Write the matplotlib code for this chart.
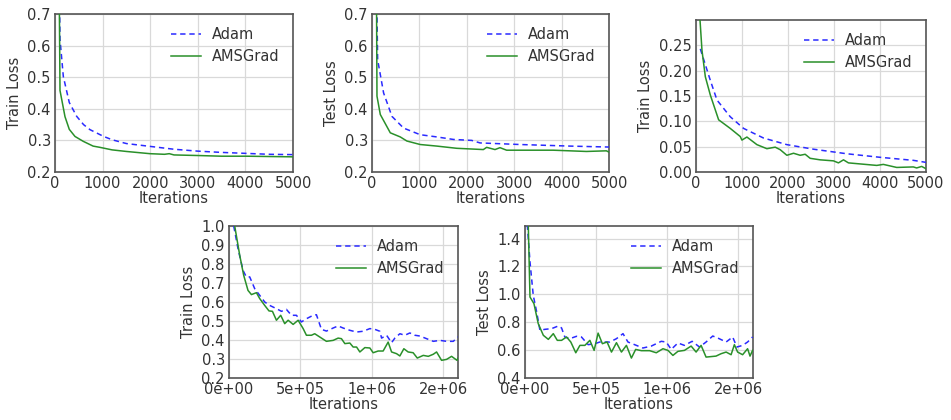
import numpy as np
import matplotlib
matplotlib.use("Agg")
import matplotlib.pyplot as plt
from matplotlib.ticker import FormatStrFormatter

# --- data ---
# panel 1: train loss, 5000 iterations
p1_adam_x = [95, 105, 175, 300, 456, 600, 735, 1015, 1200, 1500, 2000, 2500, 3000, 3500, 4000, 4500, 5000]
p1_adam_y = [0.75, 0.62, 0.502, 0.42, 0.376, 0.35, 0.334, 0.313, 0.302, 0.29, 0.281, 0.272, 0.266, 0.262, 0.259, 0.256, 0.255]
p1_ams_x = [90, 105, 210, 300, 420, 594, 800, 944, 1200, 1500, 1993, 2300, 2400, 2500, 3042, 3500, 4021, 4500, 5000]
p1_ams_y = [0.75, 0.458, 0.375, 0.335, 0.3125, 0.297, 0.282, 0.278, 0.27, 0.265, 0.258, 0.256, 0.258, 0.254, 0.252, 0.25, 0.25, 0.249, 0.248]

# panel 2: test loss, 5000 iterations
p2_adam_x = [100, 119, 245, 421, 666, 1017, 1367, 1718, 2104, 2279, 3120, 4172, 5000]
p2_adam_y = [0.75, 0.555, 0.45, 0.376, 0.339, 0.318, 0.311, 0.303, 0.3, 0.292, 0.287, 0.282, 0.279]
p2_ams_x = [95, 105, 175, 386, 596, 736, 1017, 1367, 1788, 2349, 2419, 2595, 2700, 2840, 3822, 4523, 4944, 5000]
p2_ams_y = [0.75, 0.44, 0.382, 0.324, 0.311, 0.298, 0.287, 0.282, 0.275, 0.271, 0.278, 0.271, 0.277, 0.269, 0.269, 0.265, 0.267, 0.263]

# panel 3: train loss (second dataset), 5000 iterations
p3_adam_x = [94, 311, 456, 745, 1035, 1469, 1975, 2554, 3278, 4001, 4725, 5000]
p3_adam_y = [0.243, 0.181, 0.142, 0.109, 0.086, 0.067, 0.054, 0.045, 0.036, 0.029, 0.023, 0.019]
p3_ams_x = [80, 130, 203, 311, 492, 745, 962, 998, 1107, 1324, 1541, 1722, 1831, 1975, 2120, 2265, 2373, 2482,
            2699, 2988, 3097, 3206, 3314, 3929, 4073, 4363, 4725, 4797, 4906, 5000]
p3_ams_y = [0.31, 0.24, 0.188, 0.152, 0.103, 0.086, 0.07, 0.063, 0.069, 0.054, 0.046, 0.049, 0.044, 0.033, 0.037,
            0.033, 0.035, 0.027, 0.024, 0.022, 0.018, 0.024, 0.018, 0.013, 0.015, 0.009, 0.010, 0.008, 0.011, 0.0065]

# panel 4: train loss, ~1.6e6 iterations
p4_adam_x = [33e3, 63e3, 98e3, 121e3, 145e3, 180e3, 215e3, 250e3, 285e3, 332e3, 367e3, 402e3, 437e3, 472e3, 507e3,
             542e3, 589e3, 612e3, 647e3, 682e3, 729e3, 764e3, 799e3, 846e3, 893e3, 939e3, 986e3, 1021e3, 1056e3,
             1068e3, 1103e3, 1138e3, 1161e3, 1196e3, 1231e3, 1266e3, 1301e3, 1336e3, 1383e3, 1430e3, 1477e3,
             1523e3, 1570e3, 1603e3]
p4_adam_y = [1.0, 0.881, 0.767, 0.732, 0.732, 0.67, 0.635, 0.6, 0.582, 0.565, 0.551, 0.561, 0.53, 0.53, 0.495, 0.512,
             0.53, 0.533, 0.456, 0.447, 0.463, 0.474, 0.463, 0.451, 0.442, 0.446, 0.46, 0.456, 0.446, 0.41, 0.425,
             0.386, 0.41, 0.433, 0.425, 0.437, 0.425, 0.421, 0.407, 0.393, 0.398, 0.393, 0.393, 0.416]
p4_ams_x = [40e3, 75e3, 103e3, 133e3, 157e3, 192e3, 215e3, 250e3, 280e3, 304e3, 332e3, 362e3, 390e3, 414e3, 449e3,
            484e3, 519e3, 542e3, 577e3, 600e3, 635e3, 682e3, 729e3, 764e3, 787e3, 811e3, 846e3, 869e3, 893e3, 916e3,
            951e3, 986e3, 1009e3, 1044e3, 1079e3, 1114e3, 1138e3, 1173e3, 1196e3, 1224e3, 1254e3, 1289e3, 1318e3,
            1360e3, 1395e3, 1430e3, 1453e3, 1488e3, 1523e3, 1558e3, 1596e3, 1603e3]
p4_ams_y = [1.0, 0.846, 0.74, 0.661, 0.639, 0.649, 0.618, 0.582, 0.553, 0.551, 0.504, 0.53, 0.486, 0.504, 0.482,
            0.504, 0.46, 0.425, 0.425, 0.433, 0.416, 0.393, 0.398, 0.41, 0.407, 0.381, 0.384, 0.363, 0.363, 0.337,
            0.36, 0.358, 0.333, 0.342, 0.342, 0.389, 0.337, 0.328, 0.316, 0.354, 0.337, 0.333, 0.305, 0.319, 0.314,
            0.325, 0.337, 0.293, 0.298, 0.314, 0.293, 0.305]

# panel 5: test loss, ~1.6e6 iterations
p5_adam_x = [16e3, 35e3, 58e3, 82e3, 105e3, 140e3, 187e3, 234e3, 257e3, 280e3, 315e3, 362e3, 397e3, 444e3, 491e3,
             526e3, 596e3, 643e3, 689e3, 724e3, 783e3, 829e3, 888e3, 958e3, 993e3, 1028e3, 1075e3, 1121e3, 1175e3,
             1227e3, 1273e3, 1320e3, 1355e3, 1414e3, 1460e3, 1490e3, 1530e3, 1565e3, 1600e3]
p5_adam_y = [1.5, 1.233, 0.993, 0.874, 0.742, 0.749, 0.754, 0.773, 0.759, 0.694, 0.682, 0.699, 0.694, 0.639, 0.646,
             0.658, 0.658, 0.682, 0.718, 0.658, 0.634, 0.615, 0.629, 0.663, 0.658, 0.605, 0.651, 0.634, 0.663, 0.622,
             0.658, 0.701, 0.687, 0.658, 0.694, 0.622, 0.634, 0.658, 0.694]
p5_ams_x = [23e3, 35e3, 63e3, 93e3, 129e3, 164e3, 199e3, 227e3, 257e3, 292e3, 322e3, 357e3, 386e3, 421e3, 456e3,
            486e3, 514e3, 544e3, 577e3, 608e3, 643e3, 678e3, 713e3, 748e3, 778e3, 818e3, 876e3, 923e3, 970e3,
            1005e3, 1040e3, 1075e3, 1121e3, 1168e3, 1203e3, 1238e3, 1273e3, 1343e3, 1378e3, 1414e3, 1449e3, 1472e3,
            1495e3, 1530e3, 1565e3, 1582e3, 1600e3]
p5_ams_y = [1.5, 0.981, 0.933, 0.79, 0.706, 0.677, 0.718, 0.67, 0.67, 0.694, 0.658, 0.581, 0.634, 0.634, 0.67,
            0.598, 0.722, 0.646, 0.658, 0.586, 0.653, 0.586, 0.634, 0.543, 0.605, 0.596, 0.596, 0.581, 0.61, 0.598,
            0.562, 0.591, 0.598, 0.629, 0.586, 0.634, 0.55, 0.557, 0.574, 0.586, 0.567, 0.639, 0.586, 0.567, 0.61,
            0.557, 0.598]

labels = ["Adam", "AMSGrad"]
ylabels = ["Train Loss", "Test Loss", "Train Loss", "Train Loss", "Test Loss"]

plt.rcParams['font.family'] = ['DejaVu Sans']
plt.rcParams['font.size'] = 10.5
text_col = '#333333'

fig = plt.figure(figsize=(9.51, 4.2), dpi=100)
W, H = 951.0, 420.0


def make_ax(l, r, t, b):
    return fig.add_axes([l / W, 1 - b / H, (r - l) / W, (b - t) / H])


axes = [make_ax(55, 293, 14, 172), make_ax(372, 609, 14, 172), make_ax(696, 926, 20, 172),
        make_ax(229, 458, 226, 378), make_ax(525, 753, 226, 378)]
data = [(p1_adam_x, p1_adam_y, p1_ams_x, p1_ams_y),
        (p2_adam_x, p2_adam_y, p2_ams_x, p2_ams_y),
        (p3_adam_x, p3_adam_y, p3_ams_x, p3_ams_y),
        (p4_adam_x, p4_adam_y, p4_ams_x, p4_ams_y),
        (p5_adam_x, p5_adam_y, p5_ams_x, p5_ams_y)]

for i, (ax, (ax_, ay_, gx, gy)) in enumerate(zip(axes, data)):
    ax.plot(ax_, ay_, color='#2a2aff', lw=1.1, ls=(0, (3.5, 2.5)), label=labels[0], zorder=3)
    ax.plot(gx, gy, '-', color='#2a902a', lw=1.1, label=labels[1], zorder=3)
    ax.grid(True, color='#d9d9d9', lw=0.9)
    ax.set_axisbelow(True)
    for s in ax.spines.values():
        s.set_color('#555555')
        s.set_linewidth(1.2)
    ax.tick_params(length=0, pad=3, colors=text_col, labelsize=10.5)
    ax.set_xlabel("Iterations", color=text_col, labelpad=0)
    ax.set_ylabel(ylabels[i], color=text_col, labelpad=4)
    leg = ax.legend(loc='upper right', frameon=False, fontsize=10.5, handlelength=2.0,
                    borderaxespad=0.5, labelspacing=0.45)
    for t in leg.get_texts():
        t.set_color(text_col)

for ax in axes[:3]:
    ax.set_xlim(0, 5000)
    ax.set_xticks(np.arange(0, 5001, 1000))
axes[0].set_ylim(0.2, 0.7)
axes[0].set_yticks(np.arange(0.2, 0.71, 0.1))
axes[1].set_ylim(0.2, 0.7)
axes[1].set_yticks(np.arange(0.2, 0.71, 0.1))
axes[2].set_ylim(0, 0.3)
axes[2].set_yticks(np.arange(0, 0.26, 0.05))
axes[2].yaxis.set_major_formatter(FormatStrFormatter('%.2f'))
for ax in axes[:2]:
    ax.yaxis.set_major_formatter(FormatStrFormatter('%.1f'))

for ax in axes[3:]:
    ax.set_xlim(0, 1.603e6)
    ax.set_xticks([0, 5e5, 1e6, 1.5e6])
    ax.xaxis.set_major_formatter(FormatStrFormatter('%.0e'))
axes[3].set_ylim(0.2, 1.0)
axes[3].set_yticks(np.arange(0.2, 1.01, 0.1))
axes[3].yaxis.set_major_formatter(FormatStrFormatter('%.1f'))
axes[4].set_ylim(0.4, 1.49)
axes[4].set_yticks(np.arange(0.4, 1.41, 0.2))
axes[4].yaxis.set_major_formatter(FormatStrFormatter('%.1f'))

fig.savefig("out.png", dpi=100)
